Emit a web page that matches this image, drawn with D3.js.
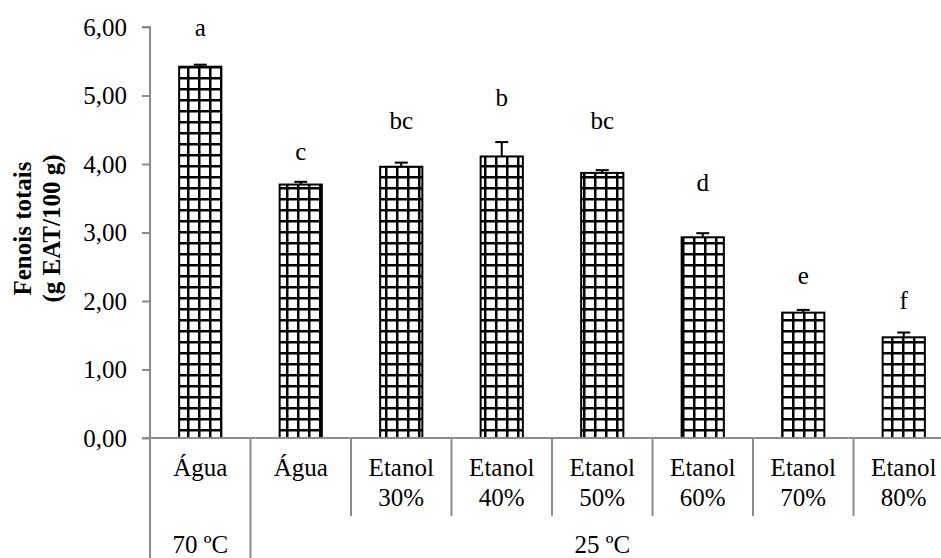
<!DOCTYPE html>
<html>
<head>
<meta charset="utf-8">
<script src="https://cdn.jsdelivr.net/npm/d3@7/dist/d3.min.js"></script>
<style>
  body { margin: 0; background: #fff; }
  svg { display: block; font-family: "Liberation Serif", "Times New Roman", serif; }
</style>
</head>
<body>
<svg id="chart"></svg>
<script>
const categories = ["c1", "c2", "c3", "c4", "c5", "c6", "c7", "c8"];
const labelTop = ["Água", "Água", "Etanol", "Etanol", "Etanol", "Etanol", "Etanol", "Etanol"];
const labelBottom = ["", "", "30%", "40%", "50%", "60%", "70%", "80%"];
const groups = ["70 ºC", "25 ºC"];
const groupSpan = [1, 7];
const values = [5.42, 3.70, 3.96, 4.11, 3.87, 2.93, 1.83, 1.47];
const errors = [0.03, 0.04, 0.06, 0.21, 0.04, 0.06, 0.04, 0.07];
const letters = ["a", "c", "bc", "b", "bc", "d", "e", "f"];
const letterAt = [5.98, 4.17, 4.63, 4.96, 4.63, 3.72, 2.36, 2.00];
const yTicks = [0, 1, 2, 3, 4, 5, 6];

const W = 941, H = 558;
const plotLeft = 150, plotRight = 954, plotTop = 27, plotBottom = 438;
const axisColor = "#8c8c8c";
const fontSize = 25;

const svg = d3.select("#chart").attr("width", W).attr("height", H);

const x = d3.scaleBand().domain(categories).range([plotLeft, plotRight])
  .paddingInner(0.58).paddingOuter(0.29);
const y = d3.scaleLinear().domain([0, 6]).range([plotBottom, plotTop]);

// grid pattern for bars
const cell = 11;
const pat = svg.append("defs").append("pattern")
  .attr("id", "grid")
  .attr("patternUnits", "userSpaceOnUse")
  .attr("width", cell).attr("height", cell);
pat.append("rect").attr("width", cell).attr("height", cell).attr("fill", "#fff");
pat.append("rect").attr("x", 0).attr("y", 0).attr("width", 2.5).attr("height", cell).attr("fill", "#000");
pat.append("rect").attr("x", 0).attr("y", 0).attr("width", cell).attr("height", 2.5).attr("fill", "#000");

// bars
svg.append("g").selectAll("rect")
  .data(categories)
  .join("rect")
  .attr("x", d => x(d))
  .attr("y", (d, i) => y(values[i]))
  .attr("width", x.bandwidth())
  .attr("height", (d, i) => y(0) - y(values[i]))
  .attr("fill", "url(#grid)")
  .attr("stroke", "#000")
  .attr("stroke-width", 2);

// error bars (upper only)
const eb = svg.append("g").attr("stroke", "#000").attr("stroke-width", 2);
categories.forEach((c, i) => {
  const cx = x(c) + x.bandwidth() / 2;
  eb.append("line").attr("x1", cx).attr("x2", cx)
    .attr("y1", y(values[i])).attr("y2", y(values[i] + errors[i]));
  eb.append("line").attr("x1", cx - 6.5).attr("x2", cx + 6.5)
    .attr("y1", y(values[i] + errors[i])).attr("y2", y(values[i] + errors[i]));
});

// significance letters
svg.append("g").selectAll("text")
  .data(categories)
  .join("text")
  .attr("x", d => x(d) + x.bandwidth() / 2)
  .attr("y", (d, i) => y(letterAt[i]))
  .attr("dy", "0.32em")
  .attr("text-anchor", "middle")
  .attr("font-size", fontSize)
  .text((d, i) => letters[i]);

// y axis
const yAxis = svg.append("g")
  .attr("transform", `translate(${plotLeft},0)`)
  .call(d3.axisLeft(y).tickValues(yTicks).tickSize(8).tickPadding(15)
    .tickFormat(d => d3.format(".2f")(d).replace(".", ",")));
yAxis.select(".domain").attr("stroke", axisColor).attr("stroke-width", 2)
  .attr("d", `M-8,${y(6)}H0V${H}`);
yAxis.selectAll(".tick line").attr("stroke", axisColor).attr("stroke-width", 2);
yAxis.selectAll(".tick text").attr("font-size", fontSize).attr("fill", "#000")
  .attr("font-family", "Liberation Serif, Times New Roman, serif");

// x axis baseline
svg.append("line")
  .attr("x1", plotLeft - 8).attr("x2", W)
  .attr("y1", y(0)).attr("y2", y(0))
  .attr("stroke", axisColor).attr("stroke-width", 2);

// category separators
const step = x.step();
const bounds = d3.range(1, categories.length + 1).map(i => plotLeft + i * step);
const groupEnds = Array.from(d3.cumsum(groupSpan), n => plotLeft + n * step);
svg.append("g").selectAll("line")
  .data(bounds)
  .join("line")
  .attr("x1", d => d).attr("x2", d => d)
  .attr("y1", y(0))
  .attr("y2", d => groupEnds.some(g => Math.abs(g - d) < 0.5) ? H : 516)
  .attr("stroke", axisColor).attr("stroke-width", 2);

// category labels
const catG = svg.append("g").attr("font-size", fontSize).attr("text-anchor", "middle");
categories.forEach((c, i) => {
  const cx = x(c) + x.bandwidth() / 2;
  catG.append("text").attr("x", cx).attr("y", 467).attr("dy", "0.35em").text(labelTop[i]);
  if (labelBottom[i]) {
    catG.append("text").attr("x", cx).attr("y", 497).attr("dy", "0.35em").text(labelBottom[i]);
  }
});

// group labels
const starts = [0, ...d3.cumsum(groupSpan)];
groups.forEach((g, i) => {
  const gx = plotLeft + (starts[i] + starts[i + 1]) / 2 * step;
  catG.append("text").attr("x", gx).attr("y", 544).attr("dy", "0.35em").text(g);
});

// y axis title
const yt = svg.append("text")
  .attr("transform", `translate(0,${(plotTop + plotBottom) / 2 - 4}) rotate(-90)`)
  .attr("text-anchor", "middle")
  .attr("font-weight", "bold")
  .attr("font-size", fontSize);
yt.append("tspan").attr("x", 0).attr("y", 31).text("Fenois totais");
yt.append("tspan").attr("x", 0).attr("y", 60).text("(g EAT/100 g)");
</script>
</body>
</html>
